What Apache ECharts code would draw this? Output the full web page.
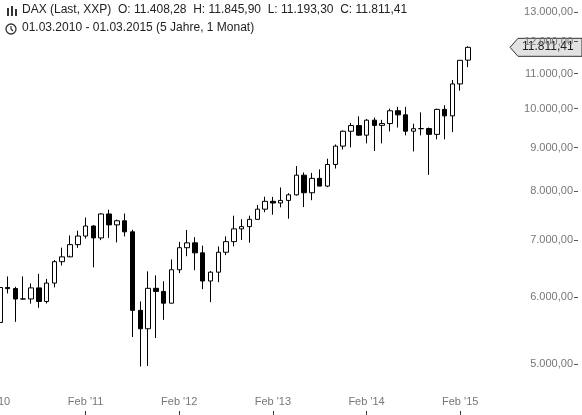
<!DOCTYPE html>
<html>
<head>
<meta charset="utf-8">
<script src="https://cdn.jsdelivr.net/npm/echarts@6/dist/echarts.min.js"></script>
<style>html,body{margin:0;padding:0;background:#fff}#main{width:582px;height:415px}</style>
</head>
<body>
<div id="main"></div>
<script>
// Monatskerzen DAX, Feb 2010 (leer) bis Mar 2015
var months = ['Feb 10','Mar 10','Apr 10','May 10','Jun 10','Jul 10','Aug 10','Sep 10','Oct 10','Nov 10','Dec 10',
  'Jan 11','Feb 11','Mar 11','Apr 11','May 11','Jun 11','Jul 11','Aug 11','Sep 11','Oct 11','Nov 11','Dec 11',
  'Jan 12','Feb 12','Mar 12','Apr 12','May 12','Jun 12','Jul 12','Aug 12','Sep 12','Oct 12','Nov 12','Dec 12',
  'Jan 13','Feb 13','Mar 13','Apr 13','May 13','Jun 13','Jul 13','Aug 13','Sep 13','Oct 13','Nov 13','Dec 13',
  'Jan 14','Feb 14','Mar 14','Apr 14','May 14','Jun 14','Jul 14','Aug 14','Sep 14','Oct 14','Nov 14','Dec 14',
  'Jan 15','Feb 15','Mar 15'];
// [open, close, low, high]
var candles = ['-',
  [5598,6154,5571,6160],[6154,6136,6057,6342],[6136,5965,5607,6166],[5965,5966,5960,6342],[5966,6148,5891,6224],
  [6148,5925,5825,6386],[5925,6229,5893,6300],[6229,6601,6156,6630],[6601,6688,6532,6857],[6688,6914,6710,7088],
  [6914,7077,6854,7180],[7077,7272,7030,7441],[7272,7041,6500,7290],[7041,7514,6999,7527],[7514,7294,7041,7600],
  [7294,7376,6956,7400],[7376,7158,7070,7523],[7158,5784,5381,7200],[5784,5502,4966,5926],[5502,6141,4974,6430],
  [6141,6089,5366,6360],[6089,5898,5637,6260],
  [5898,6458,5900,6641],[6458,6856,6400,6966],[6856,6947,6700,7194],[6947,6761,6450,7055],[6761,6264,6127,6895],
  [6264,6416,5915,6435],[6416,6772,6243,6880],[6772,6970,6720,7071],[6970,7216,6880,7478],[7216,7260,7000,7407],
  [7260,7405,6950,7478],[7405,7612,7400,7700],
  [7612,7776,7550,7873],[7776,7741,7500,7870],[7741,7795,7650,8074],[7795,7914,7418,7950],[7914,8348,7900,8557],
  [8348,7959,7655,8410],[7959,8276,7800,8400],[8276,8104,8100,8480],[8104,8594,8080,8730],[8594,9033,8500,9074],
  [9033,9405,8950,9424],[9405,9552,9000,9620],
  [9552,9306,9290,9794],[9306,9692,9100,9720],[9692,9556,8913,9760],[9556,9603,9100,9700],[9603,9943,9400,10000],
  [9943,9833,9500,10050],[9833,9407,9300,10050],[9407,9470,8903,9600],[9470,9474,9300,9900],[9474,9326,8355,9500],
  [9326,9980,9200,10000],[9980,9806,9200,10093],
  [9806,10694,9383,10810],[10694,11402,10500,11400],[11408,11811,11193,11846]];
var yTicks = [5000,6000,7000,8000,9000,10000,11000,12000,13000];
var lastPrice = 11811.41;

function deNum(v) {
  var p = v.toFixed(2).split('.');
  return p[0].replace(/\B(?=(\d{3})+(?!\d))/g, '.') + ',' + p[1];
}

var chart = echarts.init(document.getElementById('main'));
var grey = '#777';
chart.setOption({
  animation: false,
  grid: {left: -8, right: 114, top: 0, bottom: 0, containLabel: false, outerBoundsMode: 'none'},
  xAxis: {
    type: 'category', data: months, boundaryGap: false,
    axisLine: {show: false},
    axisTick: {show: true, inside: true, length: 4, lineStyle: {color: '#333'},
      interval: function (i, v) { return v.indexOf('Feb') === 0; }},
    axisLabel: {inside: true, margin: 8, color: grey, fontFamily: 'Liberation Sans', fontSize: 11,
      interval: function (i, v) { return v.indexOf('Feb') === 0; },
      formatter: function (v) { return 'Feb \'' + v.slice(4); }},
    splitLine: {show: false}
  },
  yAxis: {
    type: 'log', logBase: 10, min: 4354, max: 13430, position: 'right', offset: 110,
    axisLine: {show: false},
    axisTick: {show: true, inside: true, length: 4, customValues: yTicks, lineStyle: {color: '#555'}},
    axisLabel: {inside: true, margin: 5, color: grey, fontFamily: 'Liberation Sans', fontSize: 11,
      customValues: yTicks, formatter: function (v) { return deNum(v); }},
    splitLine: {show: false}
  },
  series: [{
    type: 'candlestick', data: candles, barWidth: 5,
    itemStyle: {color: '#fff', color0: '#000', borderColor: '#000', borderColor0: '#000', borderWidth: 1}
  }]
});

var py = chart.convertToPixel({yAxisIndex: 0}, lastPrice);
chart.setOption({
  graphic: [
    {type: 'text', left: 22, top: 4, style: {text: 'DAX (Last, XXP)  O: 11.408,28  H: 11.845,90  L: 11.193,30  C: 11.811,41',
      font: '12px "Liberation Sans"', fill: '#222'}},
    {type: 'text', left: 22, top: 22, style: {text: '01.03.2010 - 01.03.2015 (5 Jahre, 1 Monat)',
      font: '12px "Liberation Sans"', fill: '#222'}},
    {type: 'rect', shape: {x: 7, y: 8, width: 2, height: 8}, style: {fill: '#333'}},
    {type: 'rect', shape: {x: 11, y: 6, width: 2, height: 10}, style: {fill: '#333'}},
    {type: 'rect', shape: {x: 15, y: 9, width: 2, height: 7}, style: {fill: '#333'}},
    {type: 'circle', shape: {cx: 11, cy: 29, r: 5}, style: {fill: 'none', stroke: '#333', lineWidth: 1.3}},
    {type: 'polyline', shape: {points: [[11, 26], [11, 29], [13, 31]]}, style: {stroke: '#333', lineWidth: 1.2, fill: 'none'}},
    {type: 'polygon', shape: {points: [[510, py], [518, py - 9], [582, py - 9], [582, py + 9], [518, py + 9]]},
      style: {fill: '#e2e2e2', stroke: '#333', lineWidth: 1}},
    {type: 'text', left: 522, top: py - 7, style: {text: deNum(lastPrice), font: '12px "Liberation Sans"', fill: '#222'}}
  ]
});
</script>
</body>
</html>
